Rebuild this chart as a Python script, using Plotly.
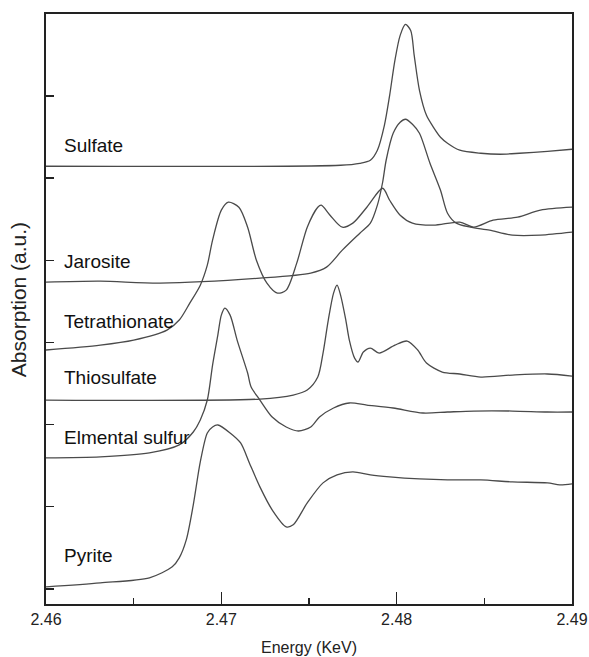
import plotly.graph_objects as go

# ---- data (energy in keV, absorption in arbitrary offset units) ----
sulfate_E = [2.4600, 2.4768, 2.4779, 2.4785, 2.4789, 2.4793, 2.4796, 2.4799, 2.4802, 2.4805, 2.4808,
             2.4810, 2.4813, 2.4817, 2.4821, 2.4825, 2.4829, 2.4836, 2.4848, 2.4859, 2.4870, 2.4886, 2.4900]
sulfate_A = [5.146, 5.158, 5.182, 5.219, 5.341, 5.645, 6.010, 6.436, 6.740, 6.873, 6.800,
             6.496, 6.071, 5.766, 5.620, 5.499, 5.426, 5.341, 5.304, 5.292, 5.304, 5.328, 5.353]

jarosite_E = [2.4600, 2.4631, 2.4665, 2.4722, 2.4751, 2.4760, 2.4769, 2.4779, 2.4785, 2.4789, 2.4792,
              2.4794, 2.4798, 2.4802, 2.4805, 2.4809, 2.4813, 2.4819, 2.4825, 2.4829, 2.4834, 2.4842,
              2.4853, 2.4866, 2.4882, 2.4900]
jarosite_A = [3.735, 3.747, 3.723, 3.783, 3.844, 3.917, 4.124, 4.331, 4.453, 4.672, 4.951,
              5.219, 5.547, 5.681, 5.718, 5.657, 5.547, 5.182, 4.854, 4.574, 4.453, 4.404,
              4.367, 4.307, 4.307, 4.343]

tetra_E = [2.4600, 2.4631, 2.4650, 2.4669, 2.4676, 2.4682, 2.4688, 2.4692, 2.4695, 2.4700, 2.4704,
           2.4710, 2.4715, 2.4720, 2.4726, 2.4732, 2.4737, 2.4743, 2.4749, 2.4755, 2.4757, 2.4762,
           2.4769, 2.4775, 2.4783, 2.4792, 2.4796, 2.4802, 2.4809, 2.4821, 2.4836, 2.4844, 2.4855,
           2.4869, 2.4882, 2.4900]
tetra_A = [2.908, 2.968, 3.029, 3.151, 3.273, 3.479, 3.698, 3.942, 4.246, 4.611, 4.708,
           4.647, 4.404, 4.002, 3.723, 3.601, 3.637, 3.966, 4.404, 4.647, 4.672, 4.550,
           4.404, 4.453, 4.647, 4.878, 4.732, 4.550, 4.453, 4.428, 4.465, 4.404, 4.489,
           4.526, 4.611, 4.647]

thio_E = [2.4600, 2.4722, 2.4741, 2.4749, 2.4755, 2.4758, 2.4761, 2.4764, 2.4766, 2.4768, 2.4771,
          2.4773, 2.4776, 2.4778, 2.4781, 2.4785, 2.4790, 2.4799, 2.4806, 2.4812, 2.4817, 2.4826,
          2.4836, 2.4848, 2.4866, 2.4886, 2.4900]
thio_A = [2.299, 2.311, 2.360, 2.421, 2.579, 2.871, 3.273, 3.601, 3.698, 3.577, 3.273,
          3.029, 2.810, 2.762, 2.883, 2.932, 2.871, 2.968, 3.017, 2.908, 2.749, 2.640,
          2.616, 2.579, 2.603, 2.616, 2.591]

sulfur_E = [2.4600, 2.4631, 2.4659, 2.4676, 2.4684, 2.4688, 2.4692, 2.4695, 2.4698, 2.4700, 2.4702,
            2.4705, 2.4709, 2.4715, 2.4717, 2.4722, 2.4729, 2.4737, 2.4744, 2.4751, 2.4756, 2.4764,
            2.4773, 2.4783, 2.4798, 2.4815, 2.4829, 2.4844, 2.4866, 2.4886, 2.4900]
sulfur_A = [1.594, 1.606, 1.655, 1.752, 1.910, 2.056, 2.299, 2.725, 3.090, 3.333, 3.418,
            3.333, 3.029, 2.628, 2.457, 2.299, 2.092, 1.971, 1.922, 1.971, 2.092, 2.202,
            2.263, 2.238, 2.202, 2.141, 2.153, 2.165, 2.165, 2.153, 2.153]

pyrite_E = [2.4600, 2.4631, 2.4659, 2.4672, 2.4676, 2.4680, 2.4684, 2.4688, 2.4692, 2.4695, 2.4698,
            2.4705, 2.4711, 2.4716, 2.4722, 2.4729, 2.4737, 2.4741, 2.4749, 2.4758, 2.4766, 2.4775,
            2.4785, 2.4796, 2.4813, 2.4829, 2.4848, 2.4866, 2.4886, 2.4893, 2.4900]
pyrite_A = [0.024, 0.073, 0.134, 0.268, 0.377, 0.596, 1.022, 1.545, 1.898, 1.971, 1.995,
            1.898, 1.776, 1.533, 1.241, 0.961, 0.754, 0.779, 1.046, 1.290, 1.387, 1.423,
            1.387, 1.363, 1.338, 1.326, 1.326, 1.302, 1.290, 1.265, 1.277]

labels = ["Sulfate", "Jarosite", "Tetrathionate", "Thiosulfate", "Elmental sulfur", "Pyrite"]
label_y = [5.40, 3.99, 3.26, 2.57, 1.84, 0.40]

x_ticks = [2.46, 2.47, 2.48, 2.49]
x_ticktext = ["2.46", "2.47", "2.48", "2.49"]
x_minor = [2.465, 2.475, 2.485]
y_ticks = [0, 1, 2, 3, 4, 5, 6]

series = [(sulfate_E, sulfate_A), (jarosite_E, jarosite_A), (tetra_E, tetra_A),
          (thio_E, thio_A), (sulfur_E, sulfur_A), (pyrite_E, pyrite_A)]

FONT = "Liberation Sans, Arial, Helvetica, sans-serif"

fig = go.Figure()
for (xs, ys), name in zip(series, labels):
    fig.add_trace(go.Scatter(x=xs, y=ys, mode="lines", name=name,
                             line=dict(color="#4a4a4a", width=1.3, shape="spline", smoothing=0.8),
                             showlegend=False, hoverinfo="skip"))

for name, yv in zip(labels, label_y):
    fig.add_annotation(x=2.4609, y=yv, text=name, showarrow=False, xanchor="left", yanchor="middle",
                       font=dict(family=FONT, size=19, color="#111"))

fig.add_annotation(xref="paper", yref="paper", x=0, y=0.515, xshift=-28, text="Absorption (a.u.)",
                   textangle=-90, showarrow=False, xanchor="center", yanchor="middle",
                   font=dict(family=FONT, size=21, color="#222"))

fig.update_layout(
    width=589, height=657,
    margin=dict(l=46, r=17, t=14, b=53, autoexpand=False),
    paper_bgcolor="white", plot_bgcolor="white",
    hovermode=False,
    xaxis=dict(range=[2.46, 2.49], tickvals=x_ticks, ticktext=x_ticktext, automargin=False,
               ticks="inside", ticklen=12, tickwidth=1.5, tickcolor="#222",
               minor=dict(tickvals=x_minor, ticks="inside", ticklen=6, tickwidth=1.5, tickcolor="#222"),
               showline=True, linewidth=2, linecolor="#222", mirror=True,
               showgrid=False, zeroline=False,
               tickfont=dict(family=FONT, size=16, color="#222"),
               title=dict(text="Energy (KeV)", standoff=15,
                          font=dict(family=FONT, size=16, color="#222"))),
    yaxis=dict(range=[-0.185, 7.0], tickvals=y_ticks, showticklabels=False, automargin=False,
               ticks="inside", ticklen=8, tickwidth=1.5, tickcolor="#222",
               showline=True, linewidth=2, linecolor="#222", mirror=True,
               showgrid=False, zeroline=False),
)

# remove the default page margin / scrollbars so the figure fills the window exactly
fig.write_html("out.html", config={"displayModeBar": False, "staticPlot": True},
               post_script="document.documentElement.style.overflow='hidden';"
                           "document.body.style.margin='0';document.body.style.overflow='hidden';")
